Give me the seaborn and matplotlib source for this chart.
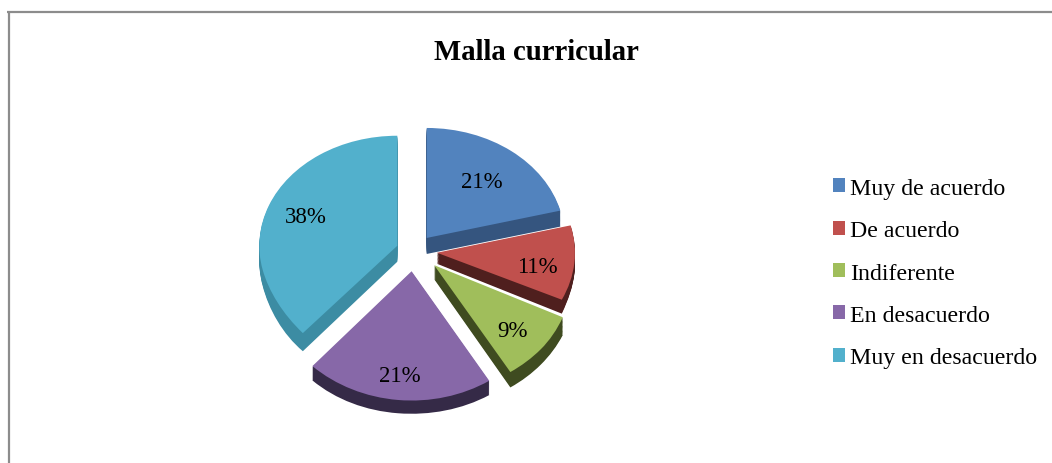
import matplotlib
matplotlib.use('Agg')
import matplotlib.pyplot as plt
import numpy as np
import seaborn as sns

# Datos del grafico
categorias = ['Muy de acuerdo', 'De acuerdo', 'Indiferente', 'En desacuerdo', 'Muy en desacuerdo']
valores = [21, 11, 9, 21, 38]
titulo = 'Malla curricular'

# Estilo de cada sector
colores = sns.color_palette(['#5283BE', '#C0504D', '#A0BE5B', '#8768A8', '#52B0CC'])
colores_lado = ['#35557F', '#4F1F1E', '#3F4B20', '#352A47', '#3C8CA3']
explode = [0.15, 0.167, 0.195, 0.185, 0.13]
radios = [1.0, 1.0, 1.03, 1.05, 1.0]
prof_px = [16, 11, 14, 13, 16]
dist_pct = [0.65, 0.73, 0.78, 0.85, 0.72]
ajuste_pct = [(0, 0), (0, 6), (-2, 2), (-1, 0), (1, 0)]  # pixeles

sns.set_style('white')
plt.rcParams['font.family'] = ['Liberation Serif', 'DejaVu Serif']
plt.rcParams['text.color'] = 'black'

W, H = 1052, 464
CX, CY, RX, RY = 414, 252, 138, 110
CAPAS = 14

# Perspectiva: la parte delantera del pastel se ve un poco mas grande
px_elipse = np.array([-500, 300, 330, 390, 1000])
px_real = np.array([-500, 300, 338, 404, 1014])
y_elipse = ((CY - px_elipse) / RY)[::-1]
y_real = ((CY - px_real) / RY)[::-1]


def perspectiva(y):
    return np.interp(y, y_elipse, y_real)


def perspectiva_inv(y):
    return np.interp(y, y_real, y_elipse)


fig = plt.figure(figsize=(W / 100, H / 100), dpi=100)
ax = fig.add_axes([0, 0, 1, 1])

handles = []
for i in range(len(valores)):
    # lados del sector, de abajo hacia arriba
    for c in range(CAPAS, 0, -1):
        ax.pie(valores, explode=explode, radius=radios[i], startangle=90, counterclock=False,
               center=(0, -prof_px[i] / RY * c / CAPAS),
               colors=[colores_lado[i] if j == i else 'none' for j in range(len(valores))],
               wedgeprops={'linewidth': 0.8, 'edgecolor': 'none'})
    wedges, _, autotexts = ax.pie(valores, explode=explode, radius=radios[i], startangle=90,
                                  counterclock=False, autopct='%.0f%%',
                                  pctdistance=dist_pct[i] / radios[i],
                                  colors=[colores[i] if j == i else 'none' for j in range(len(valores))],
                                  wedgeprops={'linewidth': 0},
                                  textprops={'fontsize': 16.5, 'color': 'black'})
    for j, t in enumerate(autotexts):
        if j != i:
            t.set_text('')
        else:
            x, y = t.get_position()
            t.set_position((x + ajuste_pct[i][0] / RX, y - ajuste_pct[i][1] / RY))
    handles.append(wedges[i])

ax.set_aspect('auto')
ax.set_yscale('function', functions=(perspectiva, perspectiva_inv))
ax.set_xlim(-CX / RX, (W - CX) / RX)
ax.set_ylim(float(perspectiva_inv((CY - H) / RY)), float(perspectiva_inv(CY / RY)))
ax.axis('off')

ax.legend(handles, categorias, loc='center left', bbox_to_anchor=(833 / W, 1 - 274 / H),
          frameon=False, fontsize=17.2, handlelength=0.52, handleheight=0.52,
          handletextpad=0.2, labelspacing=0.895, borderpad=0, borderaxespad=0)

fig.text(536.5 / W, 1 - 53 / H, titulo, ha='center', va='center', fontsize=20.7, fontweight='bold')

# Marco del grafico, cortado a la derecha y abajo
fig.add_artist(plt.Line2D([8.5 / W, 8.5 / W], [0, 1 - 11.5 / H], color='#8c8c8c', lw=1.6, solid_capstyle='butt'))
fig.add_artist(plt.Line2D([7.4 / W, 1], [1 - 12.5 / H, 1 - 12.5 / H], color='#8c8c8c', lw=1.6, solid_capstyle='butt'))

fig.savefig('out.png', dpi=100, facecolor='white')
